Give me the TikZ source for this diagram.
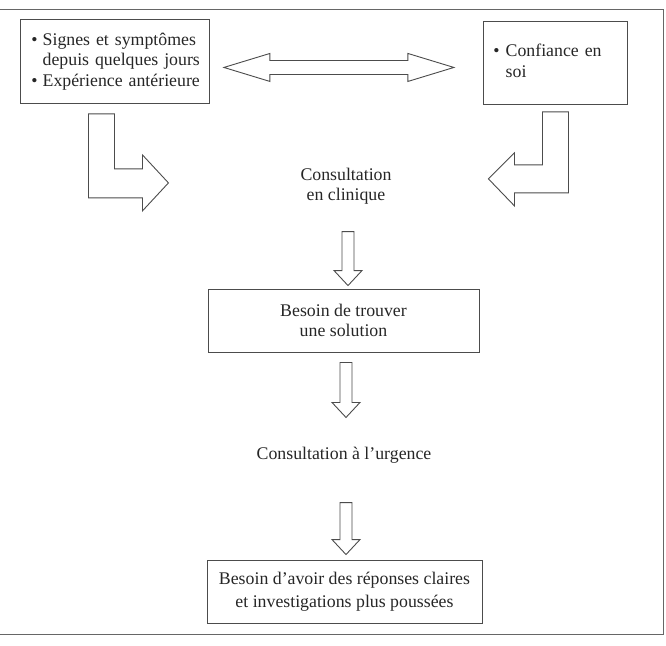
\documentclass[tikz,border=0pt]{standalone}
\usepackage{fontspec}
\setmainfont{Liberation Serif}
\usetikzlibrary{calc}

\begin{document}
\begin{tikzpicture}[
    x=1pt, y=-1pt,
    font=\fontsize{17.8}{20.5}\selectfont,
    text=black!85,
    % Box styles
    box/.style={draw=black!70, line width=0.9pt, inner ysep=0pt, minimum height=63pt, align=center},
    listbox/.style={draw=black!70, line width=0.9pt, inner ysep=0pt, align=left, anchor=north west},
    plain/.style={align=center, inner sep=0pt},
    % Hollow block arrows
    blk/.style={draw=black!70, line width=0.9pt, line join=miter, fill=white},
    frame/.style={draw=black!60, line width=0.9pt}
]
\useasboundingbox (0,0) rectangle (666,645);

% --- outer frame (no left edge) ---
\draw[frame] (0,9) -- (663,9) -- (663,634) -- (0,634);

% --- top boxes ---
\node[listbox, inner xsep=11pt, text width=167pt, minimum height=84pt] (symptomes) at (20,19)
    {\begin{tabular}{@{}l@{\hspace{5pt}}l@{}}
     \textbullet & Signes et symptômes\\
                 & depuis quelques jours\\
     \textbullet & Expérience antérieure
     \end{tabular}};
\node[listbox, inner xsep=10pt, text width=124pt, minimum height=83pt] (confiance) at (483,21)
    {\begin{tabular}{@{}l@{\hspace{6pt}}l@{}}
     \textbullet & Confiance en\\
                 & soi
     \end{tabular}};

% --- middle column ---
\node[plain] (clinique) at (346,186) {Consultation\\en clinique};
\node[box, minimum width=271pt] (besoin) at (343.5,320.5) {Besoin de trouver\\une solution};
\node[plain] (urgence) at (344,455) {Consultation à l'urgence};
\node[box, minimum width=275pt] (reponses) at (344.5,591.5) {Besoin d'avoir des réponses claires\\[2pt]et investigations plus poussées};

% --- double arrow between the top boxes ---
\draw[blk] ($(symptomes.east)+(14,6)$) -- ++(46,-14) -- ++(0,7) -- ++(138,0) -- ++(0,-7)
    -- ++(46,14) -- ++(-46,14) -- ++(0,-7) -- ++(-138,0) -- ++(0,7) -- cycle;

% --- bent arrows towards the clinic ---
\draw[blk] ($(symptomes.south)+(-26.5,10)$) -- ++(26,0) -- ++(0,55) -- ++(28,0) -- ++(0,-14)
    -- ++(26,28) -- ++(-26,28) -- ++(0,-13) -- ++(-54,0) -- cycle;
\draw[blk] ($(confiance.south)+(13,7)$) -- ++(0,81) -- ++(-54,0) -- ++(0,13)
    -- ++(-26,-27) -- ++(26,-26) -- ++(0,12) -- ++(28,0) -- ++(0,-53) -- cycle;

% --- down arrows ---
\draw[blk] ($(besoin.north)+(4.5,-3)$) -- ++(-14,-15) -- ++(8,0) -- ++(0,-39) -- ++(12,0)
    -- ++(0,39) -- ++(8,0) -- cycle;
\draw[blk] ($(besoin.south)+(2.5,65)$) -- ++(-14,-15) -- ++(8,0) -- ++(0,-40) -- ++(12,0)
    -- ++(0,40) -- ++(8,0) -- cycle;
\draw[blk] ($(reponses.north)+(1.5,-5)$) -- ++(-14,-15) -- ++(8,0) -- ++(0,-37) -- ++(12,0)
    -- ++(0,37) -- ++(8,0) -- cycle;

\end{tikzpicture}
\end{document}
